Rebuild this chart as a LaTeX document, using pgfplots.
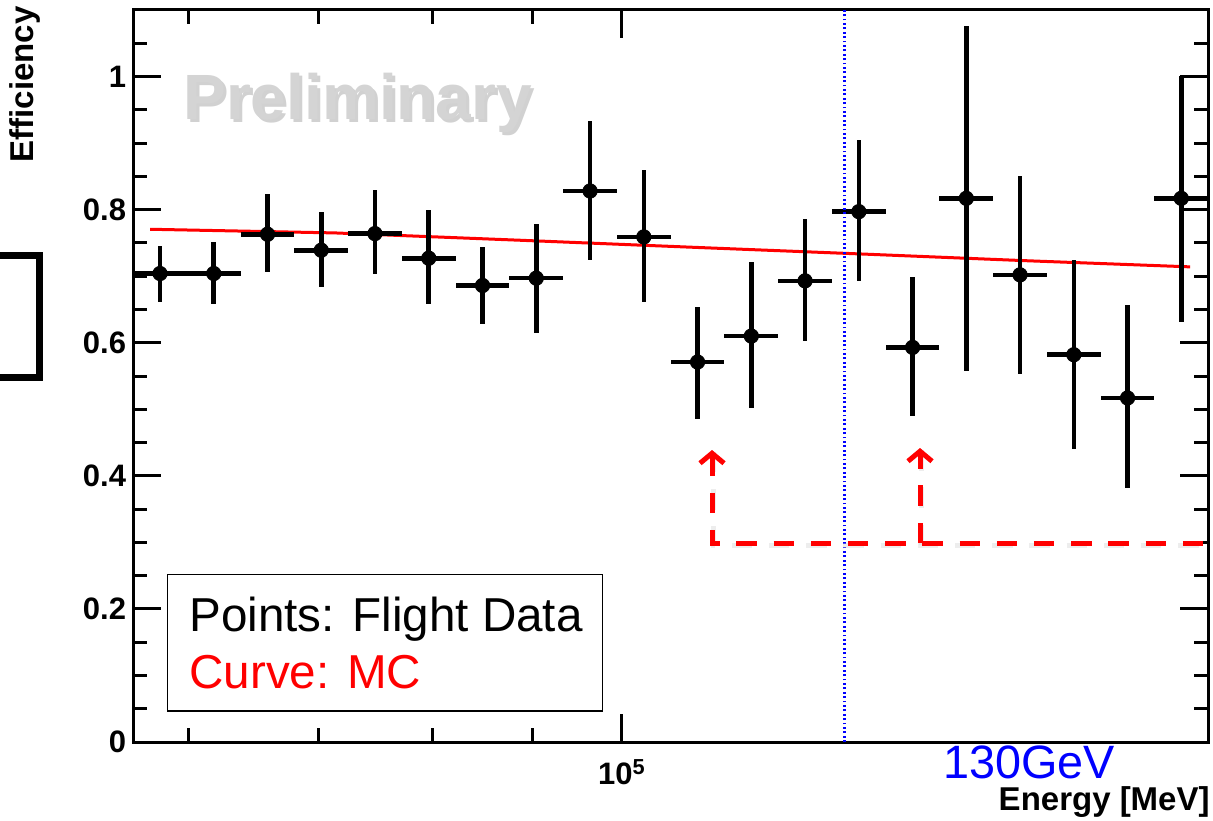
\documentclass[border=0pt]{standalone}
\usepackage{fontspec}
\setmainfont{Liberation Sans}
\usepackage{pgfplots}
\usepackage{pgfplotstable}
\pgfplotsset{compat=1.18}
\usetikzlibrary{arrows.meta}

\pgfplotstableread{
x y exm exp eym eyp
58043 0.704 1809 1867 0.043 0.042
61837 0.704 1927 1989 0.046 0.047
65879 0.763 2053 2119 0.056 0.061
70186 0.739 2188 2257 0.055 0.057
74774 0.764 2331 2405 0.061 0.065
79662 0.727 2483 2562 0.069 0.073
84869 0.686 2645 2730 0.058 0.058
90417 0.697 2818 2908 0.083 0.081
96327 0.828 3002 3099 0.103 0.105
102624 0.759 3198 3301 0.098 0.100
109333 0.571 3408 3516 0.086 0.083
116479 0.610 3630 3747 0.108 0.112
124094 0.693 3868 3992 0.090 0.093
132206 0.797 4121 4252 0.104 0.108
140848 0.593 4390 4530 0.103 0.106
150055 0.817 4677 4826 0.259 0.259
159864 0.702 4983 5141 0.149 0.149
170313 0.582 5308 5478 0.142 0.143
181446 0.517 5655 5836 0.135 0.140
193307 0.817 6025 6218 0.186 0.184
}\flightdata

\pgfplotstableread{
x y
57370 0.7705
71340 0.765
88720 0.754
109670 0.743
133520 0.733
161800 0.723
195350 0.714
}\mcdata

\begin{document}
\begin{tikzpicture}
\begin{axis}[
  at={(0pt,0pt)}, anchor=south west,
  scale only axis, width=537.5pt, height=366pt,
  xmode=log, log basis x=10,
  xmin=56234, xmax=199526, ymin=0, ymax=1.1,
  xtick={100000}, xticklabels={10\textsuperscript{5}},
  minor xtick={60000,70000,80000,90000},
  ytick={0,0.2,0.4,0.6,0.8,1}, yticklabels={0,0.2,0.4,0.6,0.8,1},
  minor ytick={0.05,0.1,0.15,0.25,0.3,0.35,0.45,0.5,0.55,0.65,0.7,0.75,0.85,0.9,0.95,1.05},
  xtick pos=both, ytick pos=both,
  xticklabel pos=lower, yticklabel pos=left,
  tick align=inside,
  major tick length=14pt, minor tick length=7pt,
  tick style={black, line width=1.5pt},
  axis line style={line width=1.5pt},
  tick label style={font=\bfseries\fontsize{15.5}{17}\selectfont},
  xticklabel style={yshift=-5pt},
  clip=true,
]
\addplot[red, line width=1.5pt] table[x=x,y=y]{\mcdata};
\addplot[only marks, mark=*, mark size=3.6pt, black,
  error bars/.cd, x dir=both, x explicit, y dir=both, y explicit,
  error mark=none, error bar style={line width=2.3pt, black}]
  table[x=x, y=y, x error plus=exp, x error minus=exm, y error plus=eyp, y error minus=eym]{\flightdata};
\addplot[blue, line width=1.6pt, dash pattern=on 0.9pt off 1.3pt] coordinates {(130000,0) (130000,1.1)};
\end{axis}

% labels
\node[rotate=90, anchor=base east, inner sep=0pt, font=\bfseries\fontsize{16.5}{19}\selectfont] at (-49.5pt,368pt) {Efficiency};
\node[anchor=base east, inner sep=0pt, font=\bfseries\fontsize{16.5}{19}\selectfont] at (538.5pt,-34pt) {Energy [MeV]};
\node[anchor=base west, inner sep=0pt, text=blue, font=\fontsize{23.4}{27}\selectfont] at (405pt,-18pt) {130GeV};

% Preliminary watermark
\node[anchor=base west, inner sep=0pt, text=black!40, opacity=0.45, font=\bfseries\fontsize{32}{36}\selectfont] at (26.5pt,309.5pt) {Preliminary};
\node[anchor=base west, inner sep=0pt, text=black!17, font=\bfseries\fontsize{32}{36}\selectfont] at (25pt,311pt) {Preliminary};

% legend box
\draw[line width=0.75pt, fill=white] (17.3pt,15.6pt) rectangle (234.8pt,83.8pt);
\node[anchor=base west, inner sep=0pt, font=\fontsize{23.8}{28}\selectfont] at (28pt,55.2pt) {Points: Flight Data};
\node[anchor=base west, inner sep=0pt, text=red, font=\fontsize{23.8}{28}\selectfont] at (28pt,27pt) {Curve: MC};

% red dashed annotation arrows
\begin{scope}[line width=2.5pt, dash pattern=on 10.2pt off 8.4pt]
\draw[black!20, opacity=0.35, shift={(0.6pt,-1pt)}] (289.5pt,146pt) -- (289.5pt,99.5pt) -- (545pt,99.5pt);
\draw[black!20, opacity=0.35, shift={(0.6pt,-1pt)}] (393.5pt,99.5pt) -- (393.5pt,147pt);
\draw[red, {Straight Barb[length=5pt,width=12pt]}-] (289.5pt,146pt) -- (289.5pt,99.5pt) -- (545pt,99.5pt);
\draw[red, -{Straight Barb[length=5pt,width=12pt]}] (393.5pt,99.5pt) -- (393.5pt,147pt);
\end{scope}

% black bracket at left edge
\draw[line width=3.5pt, line join=miter] (-80pt,243.25pt) -- (-46.75pt,243.25pt) -- (-46.75pt,182.5pt) -- (-80pt,182.5pt);

\pgfresetboundingbox
\path[use as bounding box] (-66.5pt,-39pt) rectangle (540pt,371pt);
\end{tikzpicture}
\end{document}
